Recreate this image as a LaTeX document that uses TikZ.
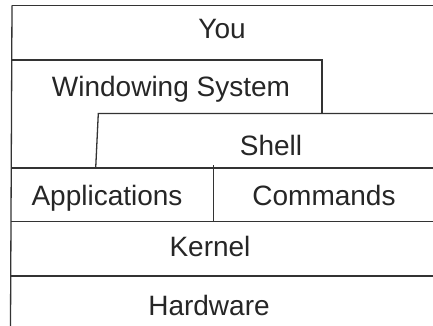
\documentclass[tikz,border=0pt]{standalone}
\usepackage{fontspec}
\setmainfont{Liberation Sans}
\begin{document}
\begin{tikzpicture}[x=1pt,y=-1pt,
  rule/.style={draw=black!80,line width=1.3pt},
  lbl/.style={anchor=base,inner sep=0pt,text=black!85,font=\fontsize{28}{33}\selectfont}]
\useasboundingbox[fill=white] (0,0) rectangle (433,326);
% lines
\draw[rule] (12,5.5) -- (433,5.5);
\draw[rule] (12,5.5) -- (10.5,326);
\draw[rule] (12,60) -- (322,60) -- (322,113.5);
\draw[rule] (95.7,168) -- (98.3,113.5) -- (433,113.5);
\draw[rule] (11,168) -- (433,168);
\draw[rule] (213.5,165) -- (213.5,221.5);
\draw[rule] (11,221.5) -- (433,221.5);
\draw[rule] (10.5,276) -- (433,276);
% labels
\node[lbl] (you) at (222,39) {You};
\node[lbl] (win) at (171,97) {Windowing System};
\node[lbl] (shell) at (271,155) {Shell};
\node[lbl] (apps) at (107,205) {Applications};
\node[lbl] (cmds) at (324,205) {Commands};
\node[lbl] (kern) at (210,256) {Kernel};
\node[lbl] (hw) at (209,315) {Hardware};
\end{tikzpicture}
\end{document}
